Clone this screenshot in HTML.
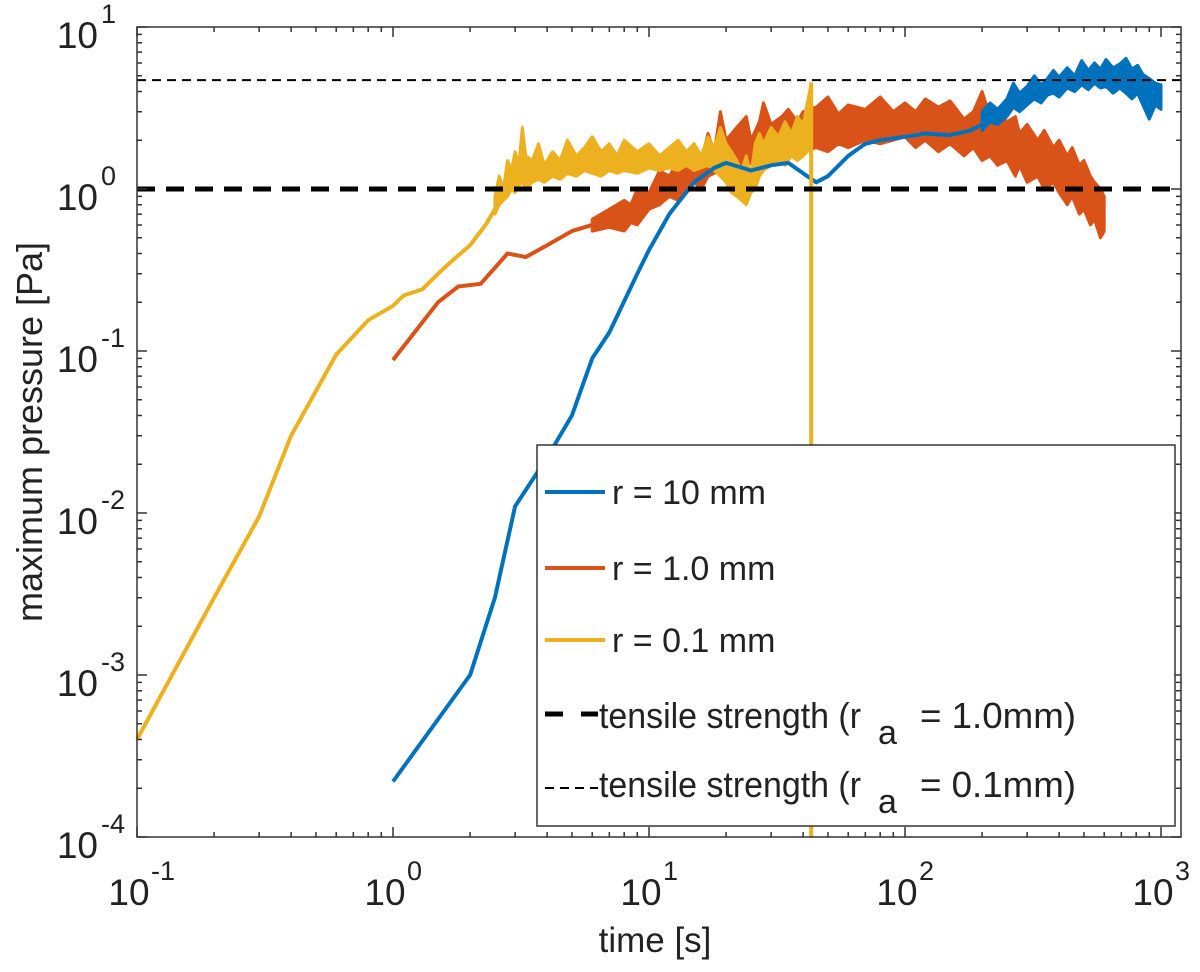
<!DOCTYPE html>
<html><head><meta charset="utf-8"><style>
html,body{margin:0;padding:0;background:#fff;}
svg text{font-family:"Liberation Sans",sans-serif;fill:#222;}
</style></head><body>
<svg id="chart" width="1200" height="972" xmlns="http://www.w3.org/2000/svg" style="position:absolute;left:0;top:0">
<g id="bands"></g>
<g id="lines"></g>
<g id="axes"></g>
</svg>
<script>
// ---- data ----
const blueT=[1,2,2.5,3,4,5,6,7,9,10,12,15,18,20,25,30,35,40,45,50,60,70,80,100,120,150,180,200];
const blueP=[2.2e-4,1e-3,3e-3,0.011,0.022,0.04,0.09,0.13,0.3,0.42,0.7,1.1,1.35,1.45,1.3,1.4,1.45,1.25,1.1,1.2,1.6,1.9,2.0,2.1,2.2,2.15,2.3,2.5];
const blueBandT=[200,215,230,250,265,280,300,320,340,360,380,400,430,460,490,520,550,580,610,650,690,730,770,810,850,900,950,1000];
const blueHi=[3.0,3.4,3.1,3.6,4.5,3.9,4.3,5.0,4.4,4.8,5.4,4.9,5.6,5.0,6.2,5.4,6.0,5.5,6.3,5.6,5.9,6.4,5.5,5.8,5.1,4.8,4.5,4.4];
const blueLo=[2.3,2.6,2.5,2.8,3.2,3.0,3.3,3.6,3.4,3.8,3.9,3.7,4.2,4.0,4.4,4.1,4.5,4.2,4.3,3.9,4.2,3.9,3.6,3.9,3.3,2.7,3.3,3.1];
const redT=[1,1.5,1.8,2.2,2.6,2.8,3.3,4,5,6];
const redP=[0.088,0.2,0.25,0.26,0.35,0.4,0.38,0.45,0.55,0.6];
const redBandT=[6,7,8,8.5,9,10,11,12,13,14,15,16,17,18,19,20,22,24,25,27,28,30,33,35,38,40,45,50,55,60,70,80,90,100,110,120,135,150,170,185,200,215,230,250,270,280,300,330,350,380,400,430,450,480,500,530,550,580,600];
const redHi=[0.65,0.75,0.85,0.8,1.0,0.95,1.3,1.2,1.5,1.3,1.9,1.5,2.2,1.7,3.0,2.0,2.4,2.8,2.0,2.6,3.4,2.5,2.8,3.1,2.6,3.0,3.2,3.7,2.9,3.3,3.1,3.7,3.0,3.4,3.0,3.6,3.2,3.5,2.7,3.0,4.0,2.8,3.1,2.6,2.8,2.2,2.5,2.0,2.3,1.8,2.0,1.6,1.8,1.4,1.5,1.2,1.1,1.0,0.9];
const redLo=[0.55,0.58,0.55,0.62,0.6,0.75,0.8,0.9,0.85,1.0,1.1,1.0,1.2,1.25,1.3,1.2,1.4,1.3,1.5,1.4,1.6,1.5,1.7,1.6,1.8,1.7,1.8,1.7,1.9,1.8,2.0,1.9,2.0,2.1,1.8,2.0,1.7,1.9,1.6,1.8,1.5,1.6,1.4,1.5,1.2,1.4,1.1,1.2,1.0,1.1,0.95,0.8,0.9,0.7,0.75,0.6,0.65,0.5,0.55];
const yelT=[0.1,0.2,0.3,0.4,0.6,0.8,1.0,1.1,1.3,1.5,1.7,2.0,2.3,2.5];
const yelP=[4e-4,3e-3,9.5e-3,0.03,0.095,0.155,0.19,0.22,0.24,0.3,0.36,0.45,0.6,0.75];
const yelBandT=[2.5,2.6,2.7,2.8,2.9,3.0,3.1,3.2,3.3,3.5,3.7,3.9,4.2,4.5,4.8,5.2,5.6,6,6.5,7,7.5,8,9,10,11,12,13,14,15,16,17,18,19,20,21,22,23,24,25,26,27,28,30,32,34,36,38,40,43];
const yelHi=[0.9,1.2,1.0,1.5,1.3,1.7,1.4,2.4,1.6,1.5,1.9,1.4,1.7,1.5,2.0,1.6,1.8,2.1,1.7,1.9,1.6,2.0,1.7,1.9,1.6,1.8,2.0,1.7,1.9,1.6,2.1,1.8,2.4,1.9,1.7,1.5,1.3,1.6,1.2,1.9,2.2,1.9,2.4,2.1,2.6,2.2,2.8,2.5,4.5];
const yelLo=[0.7,0.8,0.85,0.9,1.0,0.95,1.05,1.1,1.0,1.1,1.15,1.1,1.2,1.15,1.25,1.2,1.3,1.25,1.2,1.3,1.25,1.3,1.25,1.35,1.3,1.35,1.3,1.4,1.3,1.35,1.4,1.3,1.2,1.1,0.95,0.9,0.85,0.8,0.95,1.0,1.2,1.3,1.4,1.5,1.4,1.6,1.5,1.6,1.8];
const yelDropT=[43,43];
const yelDropP=[4.5,1e-4];
const strengthLevels=[1.0,4.7];
const xTickExp=[-1,0,1,2,3];
const yTickExp=[1,0,-1,-2,-3,-4];

// ---- axes functions ----
const X0=137, XD=256, Y0=27, YD=162, XR=1181, YB=837;
const sx=t=>X0+XD*(Math.log10(t)+1);
const sy=p=>Y0+YD*(1-Math.log10(p));
const NS="http://www.w3.org/2000/svg";
function mk(tag,attrs,parent){const e=document.createElementNS(NS,tag);for(const k in attrs)e.setAttribute(k,attrs[k]);parent.appendChild(e);return e;}
const bands=document.getElementById('bands'),lines=document.getElementById('lines'),axes=document.getElementById('axes');
const clipP=p=>Math.max(p,1e-4);
function line(T,P,color,w,name){
  const el=mk('polyline',{points:T.map((t,i)=>sx(t).toFixed(1)+','+sy(clipP(P[i])).toFixed(1)).join(' '),fill:'none',stroke:color,'stroke-width':w,'stroke-linejoin':'round'},lines);
  
  
}
function band(T,H,L,color,name){
  const pts=T.map((t,i)=>sx(t).toFixed(1)+','+sy(H[i]).toFixed(1)).concat(T.map((t,i)=>sx(t).toFixed(1)+','+sy(L[i]).toFixed(1)).reverse());
  const el=mk('polygon',{points:pts.join(' '),fill:color,stroke:color,'stroke-width':3,'stroke-linejoin':'round'},bands);
  
  
}
band(redBandT,redHi,redLo,'#D95319','red-band');
band(blueBandT,blueHi,blueLo,'#0072BD','blue-band');
band(yelBandT,yelHi,yelLo,'#EDB120','yellow-band');
line(blueT,blueP,'#0072BD',4,'blue-line');
line(redT,redP,'#D95319',4,'red-line');
line(yelT,yelP,'#EDB120',4,'yellow-line');
line(yelDropT,yelDropP,'#EDB120',4,'yellow-drop');
{
 let e=mk('line',{x1:X0,x2:XR,y1:sy(strengthLevels[0]),y2:sy(strengthLevels[0]),stroke:'#000','stroke-width':5,'stroke-dasharray':'18 11'},lines);
 
 
 e=mk('line',{x1:X0,x2:XR,y1:sy(strengthLevels[1]),y2:sy(strengthLevels[1]),stroke:'#000','stroke-width':2,'stroke-dasharray':'9 6'},lines);
 
 
}
{
 const f=mk('rect',{x:X0,y:Y0,width:XR-X0,height:YB-Y0,fill:'none',stroke:'#333','stroke-width':1.5},axes);
 
 
}
let td='';
for(let e=-1;e<=3;e++){for(let m=1;m<10;m++){const t=m*Math.pow(10,e);const x=sx(t);if(x>XR)break;const L=m==1?10:5;td+=`M${x},${YB}v${-L}M${x},${Y0}v${L}`;}}
for(let e=-4;e<=0;e++){for(let m=1;m<=10;m++){const p=m*Math.pow(10,e);const y=sy(p);const L=(m==1||m==10)?10:5;td+=`M${X0},${y}h${L}M${XR},${y}h${-L}`;}}
{const t=mk('path',{d:td,stroke:'#333','stroke-width':1.5,fill:'none'},axes);

}
xTickExp.forEach(e=>{
  const x=sx(Math.pow(10,e));
  const tx=mk('text',{x:x-8,y:905,'font-size':37,'text-anchor':'middle'},axes);
  
  
  tx.textContent='10';
  const s=mk('text',{x:x+14,y:880,'font-size':27},axes);
  
  
  s.textContent=String(e);
});
yTickExp.forEach(e=>{
  const y=sy(Math.pow(10,e));
  const tx=mk('text',{x:98,y:y+21,'font-size':37,'text-anchor':'end'},axes);
  
  
  tx.textContent='10';
  const s=mk('text',{x:101,y:y-4,'font-size':27},axes);
  
  
  s.textContent=String(e);
});
</script>
<svg style="position:absolute;left:0;top:0" width="1200" height="972" xmlns="http://www.w3.org/2000/svg">
<text x="655" y="952" font-size="35" text-anchor="middle">time [s]</text>
<text transform="translate(42,432) rotate(-90)" font-size="36" text-anchor="middle">maximum pressure [Pa]</text>
<g>
<rect x="537" y="445" width="638" height="381" fill="#fff" stroke="#333" stroke-width="1.5"/>
<line x1="545" x2="605" y1="492" y2="492" stroke="#0072BD" stroke-width="4"/>
<text x="612" y="504" font-size="34">r = 10 mm</text>
<line x1="545" x2="605" y1="568" y2="568" stroke="#D95319" stroke-width="4"/>
<text x="612" y="580" font-size="34">r = 1.0 mm</text>
<line x1="545" x2="605" y1="640" y2="640" stroke="#EDB120" stroke-width="4"/>
<text x="612" y="652" font-size="34">r = 0.1 mm</text>
<line x1="545" x2="598" y1="714" y2="714" stroke="#000" stroke-width="5" stroke-dasharray="18 18"/>
<text x="599" y="728" font-size="36" textLength="262" lengthAdjust="spacingAndGlyphs">tensile strength (r</text>
<text x="878" y="744" font-size="34">a</text>
<text x="920" y="728" font-size="36" textLength="156" lengthAdjust="spacingAndGlyphs">= 1.0mm)</text>
<line x1="545" x2="598" y1="788" y2="788" stroke="#000" stroke-width="2" stroke-dasharray="9 6"/>
<text x="599" y="797" font-size="36" textLength="262" lengthAdjust="spacingAndGlyphs">tensile strength (r</text>
<text x="878" y="813" font-size="34">a</text>
<text x="920" y="797" font-size="36" textLength="156" lengthAdjust="spacingAndGlyphs">= 0.1mm)</text>
</g>
</svg>
</body></html>
